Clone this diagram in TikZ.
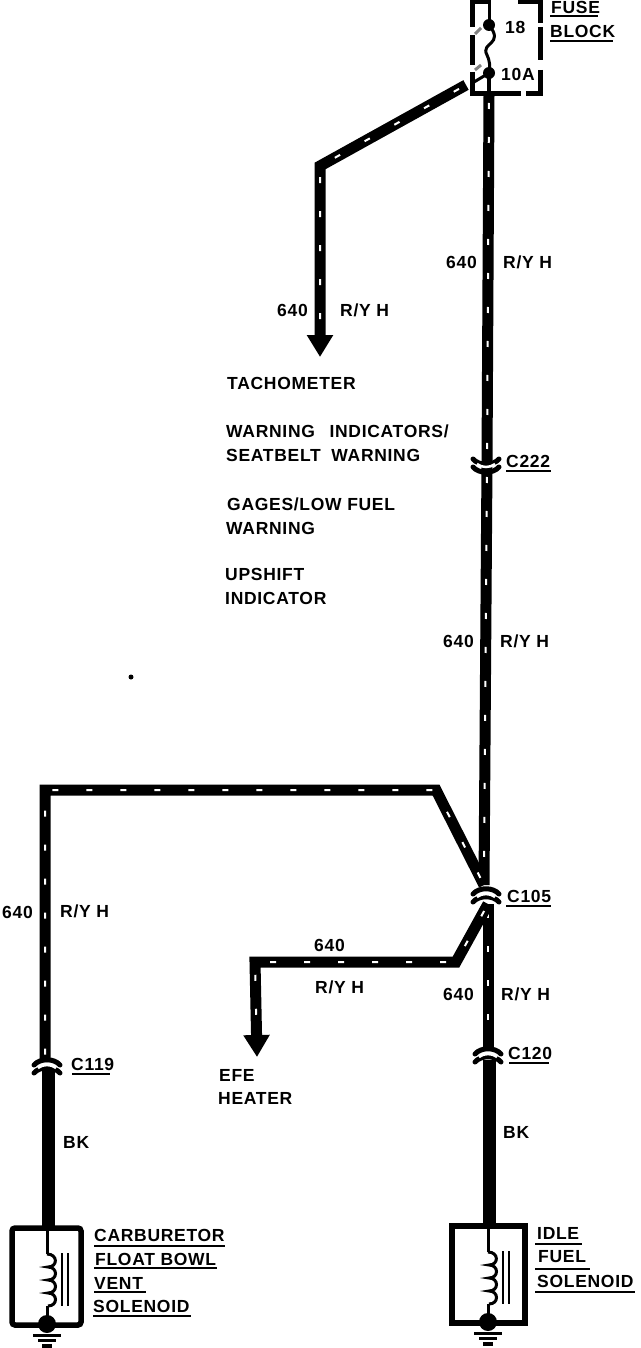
\documentclass[tikz,border=0pt]{standalone}
\usepackage{fontspec}
\setmainfont[LetterSpace=4]{Liberation Sans Bold}
\usetikzlibrary{arrows.meta}
\tikzset{
  lbl/.style={anchor=west, inner sep=0pt, font=\fontsize{17.5}{19}\selectfont},
  ulline/.style={line width=2.2pt},
  wire/.style={line width=11pt, miter limit=10, postaction={draw, -, white, line width=2pt, dash pattern=on 6pt off 28pt, dash phase=-8pt}},
  arrowwire/.style={line width=11pt, miter limit=10, -{Triangle[width=25pt,length=22pt]}, postaction={draw, -, shorten >=24pt, white, line width=2pt, dash pattern=on 6pt off 28pt, dash phase=-8pt}},
  bkwire/.style={line width=13pt},
  thinwire/.style={line width=3pt},
  fuseedge/.style={line width=5pt},
  connector/.pic={
    \draw [line width=5pt, line cap=round] (-13,1) .. controls (-7,-6) and (7,-6) .. (13,1);
    \draw [line width=5pt, line cap=round] (-13,9) .. controls (-7,2) and (7,2) .. (13,9);
    \draw [white, line width=2.5pt] (-9,4) .. controls (-4,0) and (4,0) .. (9,4);
  },
  % coil, core and ground of a solenoid, origin at the top of the box
  solenoid/.pic={
    \draw [thinwire] (0,0) -- (0,26);
    \draw [thinwire] (0,26) foreach \i in {0,1,2,3} {
      .. controls (11,26+13*\i) and (11,39+13*\i) .. (1,39+13*\i)};
    \draw [thinwire] (0,78) -- (0,98);
    \draw [line width=2pt] (15,25) -- (15,78);
    \draw [line width=2pt] (21,25) -- (21,78);
    \fill (0,96) circle (9);
    \draw [line width=3pt] (-14,107) -- (14,107);
    \draw [line width=3pt] (-9,112) -- (9,112);
    \draw [line width=3.5pt] (-5,118) -- (5,118);
  },
}
\begin{document}
\begin{tikzpicture}[x=1pt,y=-1pt]
        \useasboundingbox (0,0) rectangle (640,1348);

        %Wire corners
        \coordinate (fusedot) at (489,73);
        \coordinate (fusetop) at (489,25);
        \coordinate (fusein) at (489,0);
        \coordinate (fuseout) at (489,95);
        \coordinate (stub) at (466,85);
        \coordinate (tachbend) at (320,166);
        \coordinate (tachend) at (320,357);
        \coordinate (c222top) at (487,462);
        \coordinate (c105top) at (484,885);
        \coordinate (c105low) at (488,904);
        \coordinate (c120top) at (488,1050);
        \coordinate (c120low) at (489,1060);
        \coordinate (idletop) at (489,1228);
        \coordinate (ventbend) at (436,790);
        \coordinate (ventcorner) at (45,790);
        \coordinate (c119top) at (45,1062);
        \coordinate (c119low) at (48,1070);
        \coordinate (venttop) at (48,1230);
        \coordinate (efebend) at (456,962);
        \coordinate (eferun) at (255,962);
        \coordinate (efeend) at (257,1057);

        %Fuse block
        \draw [fuseedge] (470,1.5) -- (488,1.5);
        \draw [fuseedge] (518,1.5) -- (542,1.5);
        \draw [fuseedge] (472.5,0) -- (472.5,27);
        \draw [fuseedge] (472.5,35) -- (472.5,65);
        \draw [fuseedge] (472.5,72) -- (472.5,96);
        \draw [fuseedge] (470,94) -- (521,94);
        \draw [fuseedge] (526,94) -- (542,94);
        \draw [fuseedge] (540,0) -- (540,23);
        \draw [fuseedge] (540,27) -- (540,60);
        \draw [fuseedge] (540,70) -- (540,96);
        \draw [gray, line width=3pt] (475,34) -- (481,28);
        \draw [gray, line width=3pt] (475,70) -- (481,65);
        \draw [thinwire] (fusein) -- (fusetop);
        \draw [thinwire] (fusetop) .. controls (505,45) and (480,42) .. (487,55) .. controls (490,62) and (490,65) .. (fusedot);
        \fill (fusetop) circle (6);
        \fill (fusedot) circle (6);
        \draw [line width=4pt] (fusedot) -- (fuseout);
        \draw [line width=3pt] (fusedot) -- (474,82);
        \node [lbl] (fuse) at (551,7) {FUSE};
        \node [lbl] (block) at (550,31) {BLOCK};
        \node [lbl] (amp1) at (505,27) {18};
        \node [lbl] (amp2) at (501,74) {10A};
        \draw [ulline] (550,16) -- (598,16);
        \draw [ulline] (550,41) -- (613,41);

        %Branch to the indicators
        \draw [arrowwire] (stub) -- (tachbend) -- (tachend);
        \node [lbl] (tachnum) at (277,310) {640};
        \node [lbl] (tachcol) at (340,310) {R/Y H};
        \node [lbl] (tacho) at (227,383) {TACHOMETER};
        \node [lbl] (warn) at (226,431) {WARNING\hspace{9pt} INDICATORS/};
        \node [lbl] (belt) at (226,455) {SEATBELT\hspace{5pt} WARNING};
        \node [lbl] (gages) at (227,504) {GAGES/LOW FUEL};
        \node [lbl] (lowfuel) at (226,528) {WARNING};
        \node [lbl] (upshift) at (225,574) {UPSHIFT};
        \node [lbl] (indic) at (225,598) {INDICATOR};
        \fill (131,677) circle (2.5);

        %Main run
        \draw [wire] (fuseout) -- (c222top) -- (c105top);
        \draw [wire] (c105low) -- (c120top);
        \draw [bkwire] (c120low) -- (idletop);
        \node [lbl] (mainnum1) at (446,262) {640};
        \node [lbl] (maincol1) at (503,262) {R/Y H};
        \node [lbl] (mainnum2) at (443,641) {640};
        \node [lbl] (maincol2) at (500,641) {R/Y H};
        \node [lbl] (mainnum3) at (443,994) {640};
        \node [lbl] (maincol3) at (501,994) {R/Y H};
        \node [lbl] (idlebk) at (503,1132) {BK};

        %Branch to the float bowl
        \draw [wire] (c105top) -- (ventbend) -- (ventcorner) -- (c119top);
        \draw [bkwire] (c119low) -- (venttop);
        \node [lbl] (ventnum) at (2,912) {640};
        \node [lbl] (ventcol) at (60,911) {R/Y H};
        \node [lbl] (ventbk) at (63,1142) {BK};

        %Branch to the heater
        \draw [arrowwire] (c105low) -- (efebend) -- (eferun) -- (efeend);
        \node [lbl] (efenum) at (314,945) {640};
        \node [lbl] (efecol) at (315,987) {R/Y H};
        \node [lbl] (efe) at (219,1075) {EFE};
        \node [lbl] (heater) at (218,1098) {HEATER};

        %Connectors
        \draw (486,468) pic [yscale=-1] {connector};
        \draw (486,893) pic {connector};
        \draw (488,1053) pic {connector};
        \draw (47,1064) pic {connector};
        \node [lbl] (c222) at (506,461) {C222};
        \node [lbl] (c105) at (507,896) {C105};
        \node [lbl] (c120) at (508,1053) {C120};
        \node [lbl] (c119) at (71,1064) {C119};
        \draw [ulline] (506,471) -- (551,471);
        \draw [ulline] (506,906) -- (551,906);
        \draw [ulline] (509,1063) -- (549,1063);
        \draw [ulline] (72,1074) -- (110,1074);

        %Carburetor solenoid
        \draw [line width=5.5pt, rounded corners=3pt] (12,1228) rectangle (81,1325);
        \draw (47,1228) pic {solenoid};
        \node [lbl] (carb) at (94,1235) {CARBURETOR};
        \node [lbl] (bowl) at (95,1259) {FLOAT BOWL};
        \node [lbl] (vent) at (94,1283) {VENT};
        \node [lbl] (ventsol) at (93,1306) {SOLENOID};
        \draw [ulline] (94,1246) -- (225,1246);
        \draw [ulline] (94,1268) -- (217,1268);
        \draw [ulline] (94,1292) -- (146,1292);
        \draw [ulline] (93,1316) -- (191,1316);

        %Idle solenoid
        \draw [line width=5.5pt] (452,1226) rectangle (525,1323);
        \draw (488,1226) pic {solenoid};
        \node [lbl] (idle) at (537,1233) {IDLE};
        \node [lbl] (fuel) at (538,1257) {FUEL};
        \node [lbl] (idlesol) at (537,1281) {SOLENOID};
        \draw [ulline] (535,1244) -- (582,1244);
        \draw [ulline] (535,1269) -- (590,1269);
        \draw [ulline] (535,1292) -- (635,1292);
\end{tikzpicture}
\end{document}
